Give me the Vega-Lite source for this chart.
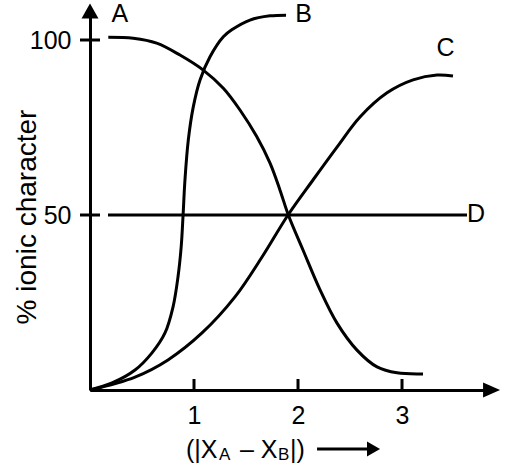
{
  "$schema": "https://vega.github.io/schema/vega-lite/v6.json",
  "width": 400,
  "height": 378,
  "autosize": "none",
  "padding": {"left": 90, "top": 12, "right": 15, "bottom": 75},
  "background": "white",
  "config": {
    "view": {"stroke": null},
    "font": "Liberation Sans",
    "axis": {"grid": false, "ticks": false, "labelFontSize": 25, "labelColor": "black", "labelFont": "Liberation Sans",
      "domainWidth": 3, "domainColor": "black", "titleFont": "Liberation Sans", "titleColor": "black", "titleFontWeight": "normal"},
    "axisX": {"labelPadding": 13},
    "axisY": {"labelPadding": 19, "titleFontSize": 28, "titleAngle": -90, "titleX": -55, "titleY": 204.5, "titleAlign": "center", "titleBaseline": "alphabetic"}
  },
  "datasets": {
    "curves": [
      {"curve": "A", "x": 0.176, "y": 100.8}, {"curve": "A", "x": 0.416, "y": 100.5}, {"curve": "A", "x": 0.641, "y": 99.1},
      {"curve": "A", "x": 0.865, "y": 95.7}, {"curve": "A", "x": 1.089, "y": 91.4}, {"curve": "A", "x": 1.282, "y": 86.2},
      {"curve": "A", "x": 1.442, "y": 80.0}, {"curve": "A", "x": 1.603, "y": 72.4}, {"curve": "A", "x": 1.731, "y": 64.8},
      {"curve": "A", "x": 1.827, "y": 57.1}, {"curve": "A", "x": 1.907, "y": 50.0}, {"curve": "A", "x": 2.048, "y": 40.0},
      {"curve": "A", "x": 2.212, "y": 28.6}, {"curve": "A", "x": 2.375, "y": 19.1}, {"curve": "A", "x": 2.567, "y": 11.4},
      {"curve": "A", "x": 2.76, "y": 6.6}, {"curve": "A", "x": 2.952, "y": 4.9}, {"curve": "A", "x": 3.202, "y": 4.6},
      {"curve": "B", "x": 0.0, "y": 0.0}, {"curve": "B", "x": 0.212, "y": 2.0}, {"curve": "B", "x": 0.433, "y": 5.7},
      {"curve": "B", "x": 0.596, "y": 10.6}, {"curve": "B", "x": 0.721, "y": 16.3}, {"curve": "B", "x": 0.798, "y": 23.7},
      {"curve": "B", "x": 0.846, "y": 32.3}, {"curve": "B", "x": 0.877, "y": 41.0}, {"curve": "B", "x": 0.895, "y": 50.0},
      {"curve": "B", "x": 0.913, "y": 60.0}, {"curve": "B", "x": 0.945, "y": 71.4}, {"curve": "B", "x": 0.993, "y": 80.9},
      {"curve": "B", "x": 1.058, "y": 88.6}, {"curve": "B", "x": 1.154, "y": 95.2}, {"curve": "B", "x": 1.282, "y": 100.9},
      {"curve": "B", "x": 1.363, "y": 102.9}, {"curve": "B", "x": 1.538, "y": 105.7}, {"curve": "B", "x": 1.731, "y": 106.9},
      {"curve": "B", "x": 1.885, "y": 107.1},
      {"curve": "C", "x": 0.0, "y": 0.0}, {"curve": "C", "x": 0.433, "y": 3.7}, {"curve": "C", "x": 0.75, "y": 8.6},
      {"curve": "C", "x": 1.077, "y": 16.3}, {"curve": "C", "x": 1.394, "y": 26.6}, {"curve": "C", "x": 1.654, "y": 38.0},
      {"curve": "C", "x": 1.904, "y": 50.0}, {"curve": "C", "x": 2.144, "y": 60.0}, {"curve": "C", "x": 2.375, "y": 69.4},
      {"curve": "C", "x": 2.596, "y": 78.0}, {"curve": "C", "x": 2.856, "y": 84.9}, {"curve": "C", "x": 3.106, "y": 88.6},
      {"curve": "C", "x": 3.337, "y": 90.0}, {"curve": "C", "x": 3.49, "y": 89.7},
      {"curve": "D", "x": 0.173, "y": 50.0}, {"curve": "D", "x": 3.625, "y": 50.0}
    ],
    "curveLabels": [
      {"label": "A", "x": 0.288, "y": 107.4},
      {"label": "B", "x": 2.053, "y": 107.4},
      {"label": "C", "x": 3.418, "y": 97.6},
      {"label": "D", "x": 3.712, "y": 50.3}
    ],
    "yTicks": [{"y": 50}, {"y": 100}],
    "xTicks": [{"x": 1}, {"x": 2}, {"x": 3}],
    "yArrow": [{"x": 0, "y": 108.3}],
    "xArrow": [{"x": 3.861, "y": 0}],
    "titleArrowLine": [{"x": 2.183, "x2": 2.692, "y": -16.86}],
    "titleArrowHead": [{"x": 2.726, "y": -16.86}],
    "titleMain": [
      {"t": "(|X", "x": 0.923, "y": -19.43},
      {"t": "– X", "x": 1.442, "y": -19.43},
      {"t": "|)", "x": 1.923, "y": -19.43}
    ],
    "titleSub": [
      {"t": "A", "x": 1.24, "y": -20.0},
      {"t": "B", "x": 1.808, "y": -20.0}
    ]
  },
  "layer": [
    {
      "data": {"name": "curves"},
      "mark": {"type": "line", "color": "black", "strokeWidth": 3, "interpolate": "catmull-rom"},
      "encoding": {
        "x": {"field": "x", "type": "quantitative", "title": null,
          "scale": {"domain": [0, 3.846], "nice": false, "zero": false},
          "axis": {"values": [1, 2, 3], "format": "d"}},
        "y": {"field": "y", "type": "quantitative", "title": "% ionic character",
          "scale": {"domain": [0, 108], "nice": false, "zero": false},
          "axis": {"values": [50, 100], "format": "d"}},
        "detail": {"field": "curve", "type": "nominal"}
      }
    },
    {
      "data": {"name": "yTicks"},
      "mark": {"type": "rule", "color": "black", "strokeWidth": 3},
      "encoding": {
        "y": {"field": "y", "type": "quantitative", "title": "% ionic character"},
        "x": {"datum": -0.096, "type": "quantitative", "title": null},
        "x2": {"datum": 0.096}
      }
    },
    {
      "data": {"name": "xTicks"},
      "mark": {"type": "rule", "color": "black", "strokeWidth": 3},
      "encoding": {
        "x": {"field": "x", "type": "quantitative", "title": null},
        "y": {"datum": 0, "type": "quantitative", "title": "% ionic character"},
        "y2": {"datum": 3.14}
      }
    },
    {
      "data": {"name": "curveLabels"},
      "mark": {"type": "text", "fontSize": 25, "color": "black", "align": "center", "baseline": "middle"},
      "encoding": {
        "x": {"field": "x", "type": "quantitative", "title": null},
        "y": {"field": "y", "type": "quantitative", "title": "% ionic character"},
        "text": {"field": "label"}
      }
    },
    {
      "data": {"name": "yArrow"},
      "mark": {"type": "point", "shape": "M0,-0.88L1,0.88L-1,0.88Z", "size": 289, "filled": true, "color": "black", "opacity": 1, "strokeWidth": 0},
      "encoding": {
        "x": {"field": "x", "type": "quantitative", "title": null},
        "y": {"field": "y", "type": "quantitative", "title": "% ionic character"}
      }
    },
    {
      "data": {"name": "xArrow"},
      "mark": {"type": "point", "shape": "M-1,-0.88L1,0L-1,0.88Z", "size": 289, "filled": true, "color": "black", "opacity": 1, "strokeWidth": 0},
      "encoding": {
        "x": {"field": "x", "type": "quantitative", "title": null},
        "y": {"field": "y", "type": "quantitative", "title": "% ionic character"}
      }
    },
    {
      "data": {"name": "titleArrowLine"},
      "mark": {"type": "rule", "color": "black", "strokeWidth": 3},
      "encoding": {
        "x": {"field": "x", "type": "quantitative", "title": null},
        "x2": {"field": "x2"},
        "y": {"field": "y", "type": "quantitative", "title": "% ionic character"}
      }
    },
    {
      "data": {"name": "titleArrowHead"},
      "mark": {"type": "point", "shape": "M-0.87,-1L0.87,0L-0.87,1Z", "size": 225, "filled": true, "color": "black", "opacity": 1, "strokeWidth": 0},
      "encoding": {
        "x": {"field": "x", "type": "quantitative", "title": null},
        "y": {"field": "y", "type": "quantitative", "title": "% ionic character"}
      }
    },
    {
      "data": {"name": "titleMain"},
      "mark": {"type": "text", "fontSize": 25, "color": "black", "align": "left", "baseline": "alphabetic"},
      "encoding": {
        "x": {"field": "x", "type": "quantitative", "title": null},
        "y": {"field": "y", "type": "quantitative", "title": "% ionic character"},
        "text": {"field": "t"}
      }
    },
    {
      "data": {"name": "titleSub"},
      "mark": {"type": "text", "fontSize": 17, "color": "black", "align": "left", "baseline": "alphabetic"},
      "encoding": {
        "x": {"field": "x", "type": "quantitative", "title": null},
        "y": {"field": "y", "type": "quantitative", "title": "% ionic character"},
        "text": {"field": "t"}
      }
    }
  ]
}
